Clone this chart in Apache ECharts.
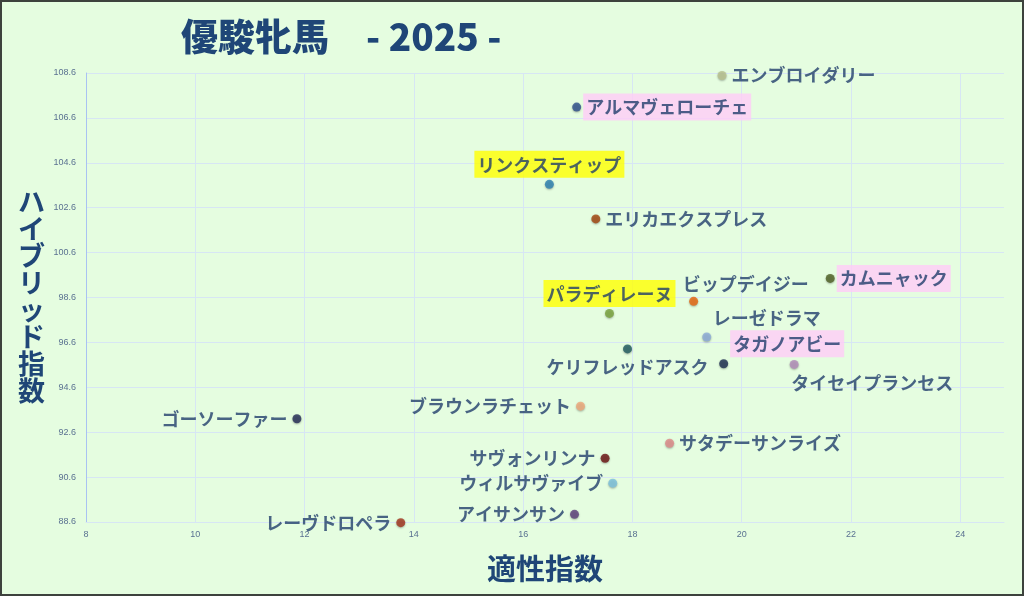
<!DOCTYPE html>
<html>
<head>
<meta charset="utf-8">
<script src="https://cdn.jsdelivr.net/npm/echarts@6/dist/echarts.min.js"></script>
<style>
 html,body{margin:0;padding:0;background:#e5fde0;}
 #main{width:1024px;height:596px;}
</style>
</head>
<body>
<div id="main"></div>
<script>
 // 馬名・適性指数・ハイブリッド指数
 var horseNames=['エンブロイダリー','アルマヴェローチェ','リンクスティップ','エリカエクスプレス','ビップデイジー','カムニャック','パラディレーヌ','レーゼドラマ','ケリフレッドアスク','タガノアビー','タイセイプランセス','ブラウンラチェット','ゴーソーファー','サタデーサンライズ','サヴォンリンナ','ウィルサヴァイブ','アイサンサン','レーヴドロペラ'];
 var fitIndex=[19.64,16.98,16.48,17.33,19.12,21.62,17.58,19.36,17.91,19.67,20.96,17.05,11.86,18.68,17.5,17.64,16.94,13.76];
 var hybridIndex=[108.49,107.08,103.64,102.1,98.43,99.45,97.89,96.84,96.31,95.65,95.62,93.76,93.2,92.11,91.44,90.33,88.94,88.57];
 var xTicks=[8,10,12,14,16,18,20,22,24];
 var yTicks=[88.6,90.6,92.6,94.6,96.6,98.6,100.6,102.6,104.6,106.6,108.6];

 // 見た目（色・ラベル位置）
 var dotColors=['#b9c28f','#2d4f8c','#2a80b2','#a3440c','#e9640c','#4f6024','#78a23b','#8cabd9','#1f5b60','#1c2a50','#b38cba','#f0a97a','#232b56','#e08a8a','#6b1212','#7cc2de','#5b3d7b','#a3321b'];
 var labelPos=['right','right','top','right','top','right','top','top','bottom','right','bottom','left','left','right','left','left','left','left'];
 var labelOff=[[0,0],[0,0],[0,0],[0,0],[52,1],[0,0],[0,0],[60,0],[0,0],[0,-20],[78,0],[0,0],[0,0],[0,0],[0,0],[0,0],[0,0],[0,0]];
 var labelBg=['','#ffccf7','#ffff00','','','#ffccf7','#ffff00','','','#ffccf7','','','','','','','',''];

 var chartData=[];
 for(var i=0;i<horseNames.length;i++){
	 var lb={show:true,position:labelPos[i],offset:labelOff[i],distance:5,formatter:horseNames[i]};
	 if(labelBg[i]!=''){
		 lb.backgroundColor=labelBg[i];
		 lb.padding=[5,3,4,3];
		 lb.distance=2;
	 }
	 chartData.push({
		 value:[fitIndex[i],hybridIndex[i]],
		 itemStyle:{color:dotColors[i]},
		 label:lb
	 });
 }

 var myChart=echarts.init(document.getElementById('main'));
 var gridColor='#d7e6f4';
 var option={
	 backgroundColor:'#e5fde0',
	 animation:false,
	 title:{
		 text:'優駿牝馬　- 2025 -',
		 left:176,top:13,
		 textStyle:{fontFamily:'Noto Sans CJK JP',fontWeight:900,fontSize:37,color:'#1f4677'}
	 },
	 grid:{left:86,right:20,top:73,bottom:74},
	 xAxis:{
		 type:'value',min:xTicks[0],max:24.8,interval:2,
		 name:'適性指数',nameLocation:'middle',nameGap:32,
		 nameTextStyle:{fontFamily:'Noto Sans CJK JP',fontWeight:'bold',fontSize:29,color:'#1f4677'},
		 axisLine:{show:true,lineStyle:{color:gridColor}},
		 axisTick:{show:false},
		 axisLabel:{fontSize:9,color:'#5a7191',margin:8,showMaxLabel:false},
		 splitLine:{show:true,showMaxLine:false,lineStyle:{color:gridColor}}
	 },
	 yAxis:{
		 type:'value',min:yTicks[0],max:yTicks[yTicks.length-1],interval:2,
		 axisLine:{show:true,lineStyle:{color:'#a9c2f2'}},
		 axisTick:{show:false},
		 axisLabel:{fontSize:9,color:'#5a7191',margin:10,formatter:function(v){return v.toFixed(1);}},
		 splitLine:{show:true,lineStyle:{color:gridColor}}
	 },
	 graphic:[
		 {type:'text',left:18,top:188,style:{text:'ハ\nイ\nブ\nリ\nッ\nド\n指\n数',fontFamily:'Noto Sans CJK JP',fontWeight:'bold',fontSize:27,lineHeight:27,fill:'#1f4677',align:'center'}},
		 {type:'rect',shape:{x:1,y:1,width:1022,height:594},style:{fill:null,stroke:'#3d423d',lineWidth:2},silent:true}
	 ],
	 series:[{
		 type:'scatter',
		 symbolSize:9,
		 clip:false,
		 data:chartData,
		 itemStyle:{shadowBlur:2,shadowColor:'rgba(0,0,0,0.35)',shadowOffsetY:1},
		 label:{fontFamily:'Noto Sans CJK JP',fontWeight:'bold',fontSize:18,color:'#213d6b'}
	 }]
 };
 myChart.setOption(option);
</script>
</body>
</html>
